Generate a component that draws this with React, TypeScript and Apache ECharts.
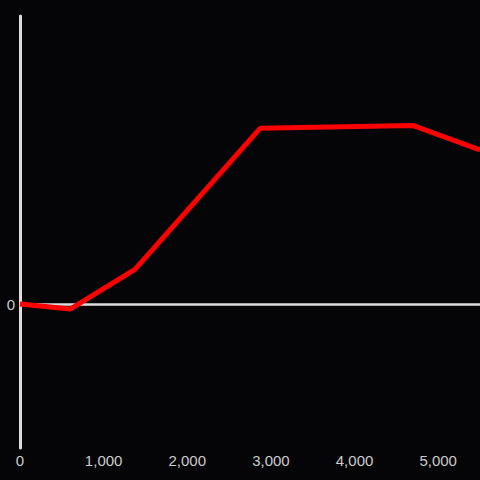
import React, { useEffect, useRef } from "react";
import * as echarts from "echarts";

const xValues = [0, 600, 1375, 2870, 4695, 5500];
const yValues = [0, -3.5, 24, 122, 124, 107];
const xTickLabels = ["0", "1,000", "2,000", "3,000", "4,000", "5,000"];

export default function App() {
  const ref = useRef<HTMLDivElement>(null);
  useEffect(() => {
    if (!ref.current) return;
    const chart = echarts.init(ref.current, null, { renderer: "svg" });
    const labelStyle = {
      color: "#cccccc",
      fontSize: 15,
      fontFamily: "Liberation Sans, Arial, sans-serif",
    };
    chart.setOption({
      animation: false,
      backgroundColor: "#050407",
      grid: { left: 20, right: 0, top: 16, bottom: 32, containLabel: false },
      xAxis: {
        type: "value",
        min: 0,
        max: 5500,
        interval: 1000,
        position: "bottom",
        axisLine: { show: false, onZero: false },
        axisTick: { show: false },
        splitLine: { show: false },
        axisLabel: {
          ...labelStyle,
          margin: 5,
          showMaxLabel: false,
          formatter: (v: number) => {
            const i = Math.round(v / 1000);
            return v % 1000 === 0 && i < xTickLabels.length ? xTickLabels[i] : "";
          },
        },
      },
      yAxis: {
        type: "value",
        min: -100,
        max: 200,
        interval: 100,
        axisLine: { show: true, onZero: false, lineStyle: { color: "#dddddd", width: 3 } },
        axisTick: { show: false },
        splitLine: { show: false },
        axisLabel: {
          ...labelStyle,
          margin: 5,
          formatter: (v: number) => (v === 0 ? "0" : ""),
        },
      },
      series: [
        {
          type: "line",
          data: xValues.map((x, i) => [x, yValues[i]]),
          showSymbol: false,
          symbol: "none",
          lineStyle: { color: "#ff0000", width: 5 },
          z: 5,
          markLine: {
            silent: true,
            z: 1,
            symbol: "none",
            label: { show: false },
            lineStyle: { color: "#dddddd", width: 2.5, type: "solid" },
            data: [{ yAxis: 0 }],
          },
        },
      ],
    });
    return () => chart.dispose();
  }, []);
  return <div ref={ref} style={{ width: 480, height: 480, position: "absolute", left: 0, top: 0 }} />;
}
